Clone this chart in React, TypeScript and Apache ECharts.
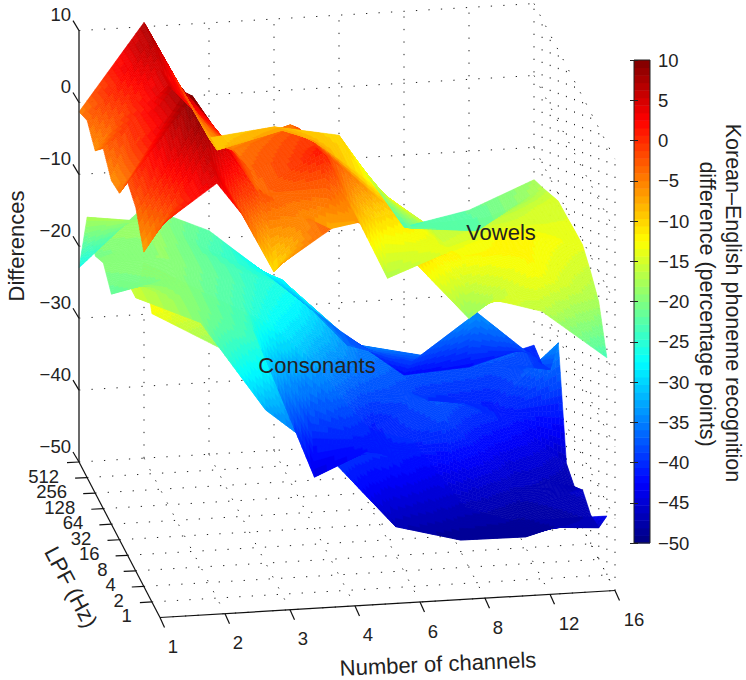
import React, { useEffect, useRef } from "react";
import * as echarts from "echarts";

const channelLabels = ["1", "2", "3", "4", "6", "8", "12", "16"];
const lpfLabels = ["512", "256", "128", "64", "32", "16", "8", "4", "2", "1"];
const zTicks = [10, 0, -10, -20, -30, -40, -50];

// rows: LPF 512 -> 1, columns: channels 1 -> 16
const vowels = [
  [-1.3, 10.6, -6, -5, -6.7, -20, -18.2, -14.5],
  [-0.3, 10.6, -5.5, -3.3, -6.6, -18, -18.9, -13.4],
  [-2.4, 8.5, -3, -0.4, -7.2, -15.4, -15, -12.2],
  [0.1, 8.4, -1.2, 1.3, -6.5, -13.3, -13, -11],
  [-2.2, 11, -0.4, 2.5, -5.7, -12.4, -11.6, -10.9],
  [-1.8, 11.7, 0.3, 3.3, -4.9, -11.7, -10.1, -10.7],
  [1.9, 13.3, -0.3, 5, -13.6, -10.2, -8.3, -10.6],
  [0.6, 12.5, 0.9, -4, -2.5, -9, -8.6, -12.2],
  [-3.5, 9.6, -7.3, 3.5, -5.5, -15.4, -9, -14.2],
  [1.5, 7.7, -4, 1.8, -2.5, -10.1, -12.8, -19.8],
];
const consonants = [
  [-23, -15, -18.9, -26.3, -33.8, -40.6, -40, -37.5],
  [-13.8, -15, -20, -24.1, -33.7, -36.6, -30.3, -38],
  [-17, -15.4, -19.4, -23, -31.5, -33.5, -35, -36.6],
  [-15.8, -15.5, -19.3, -25, -32.9, -37.6, -38.8, -30.7],
  [-18, -16, -19.9, -28, -38.8, -34.3, -38.7, -45.3],
  [-14, -16, -20.5, -42.9, -39, -36, -44, -46.4],
  [-12, -16, -21.2, -36, -38.5, -44, -47, -44.7],
  [-12, -16, -28.7, -36, -46, -48.4, -48.5, -46],
  [-5, -10, -15, -25, -36, -42, -45, -45.6],
  [-9.9, -15, -19.6, -27, -29.6, -41.6, -41.8, -41.8],
];
const colorbarValues = Array.from({ length: 64 }, (_, k) => k);

const TEXT = "#222";
const FONT = "Liberation Sans";
const colorShiftHigh = -3.5;
const shiftFadeFrom = -30;
const shiftFadeTo = -52;

function project(i: number, j: number, z: number): [number, number] {
  return [79 + 65 * i + 8.1 * j, 462 - 3.86 * i + 15.55 * j - 7.19 * (z + 50)];
}
function jet(t: number): string {
  const k = Math.max(0, Math.min(63, Math.floor(t * 64)));
  const x = (k + 0.5) / 64;
  const c = (d: number) => Math.round(255 * Math.max(0, Math.min(1, 1.5 - Math.abs(4 * x - d))));
  return `rgb(${c(3)},${c(2)},${c(1)})`;
}
const colorOf = (v: number) => {
  const f = Math.max(0, Math.min(1, (v - shiftFadeTo) / (shiftFadeFrom - shiftFadeTo)));
  return jet((v + colorShiftHigh * f + 50) / 60);
};

function surfaceCells(grid: number[][]) {
  const out: number[][] = [];
  for (let j = grid.length - 2; j >= 0; j--) {
    for (let i = grid[0].length - 2; i >= 0; i--) out.push([i, j]);
  }
  // painter's order: far first
  out.sort((a, b) => b[1] + 0.1246 * b[0] - (a[1] + 0.1246 * a[0]));
  return out;
}
function surfaceSeries(grid: number[][], z: number) {
  const N = 16;
  return {
    type: "custom",
    coordinateSystem: "none",
    silent: true,
    z,
    data: surfaceCells(grid),
    renderItem: (_: any, api: any) => {
      const i = api.value(0);
      const j = api.value(1);
      const a = grid[j][i], b = grid[j][i + 1], c = grid[j + 1][i], d = grid[j + 1][i + 1];
      const val = (u: number, v: number) =>
        a * (1 - u) * (1 - v) + b * u * (1 - v) + c * (1 - u) * v + d * u * v;
      const children: any[] = [];
      for (let q = 0; q < N; q++) {
        for (let p = N - 1; p >= 0; p--) {
          const corners = [[p, q], [p + 1, q], [p + 1, q + 1], [p, q + 1]].map(([m, n]) => {
            const u = m / N, v = n / N;
            return project(i + u, j + v, val(u, v));
          });
          const col = colorOf(val((p + 0.5) / N, (q + 0.5) / N));
          children.push({
            type: "polygon",
            shape: { points: corners },
            style: { fill: col, stroke: col, lineWidth: 0.6 },
          });
        }
      }
      return { type: "group", children };
    },
  };
}

function dottedSegments() {
  const segs: number[][][] = [];
  const nx = channelLabels.length - 1;
  const ny = lpfLabels.length; // floor reaches one step in front of LPF 1
  const top = zTicks[0], bot = zTicks[zTicks.length - 1];
  for (let i = 1; i <= nx; i++) {
    segs.push([[i, 0, bot], [i, 0, top]]);
    segs.push([[i, 0, bot], [i, ny, bot]]);
  }
  for (let j = 1; j <= ny; j++) {
    segs.push([[0, j, bot], [nx, j, bot]]);
    segs.push([[nx, j, bot], [nx, j, top]]);
  }
  for (const z of zTicks) {
    segs.push([[0, 0, z], [nx, 0, z]]);
    segs.push([[nx, 0, z], [nx, ny, z]]);
  }
  return segs;
}
const gridSegments = dottedSegments();

function axisGraphics() {
  const g: any[] = [];
  const line = (p: number[], q: number[], color = "#111", w = 1.2) =>
    g.push({
      type: "line", z: 50,
      shape: { x1: p[0], y1: p[1], x2: q[0], y2: q[1] },
      style: { stroke: color, lineWidth: w },
    });
  const text = (s: string, x: number, y: number, o: any = {}) =>
    g.push({
      type: "text", z: 60, x, y, rotation: o.rotation || 0,
      style: {
        text: s, fill: TEXT, fontFamily: FONT, fontSize: o.size || 18.5,
        align: o.align || "center", verticalAlign: "middle",
      },
    });
  const ny = lpfLabels.length;
  const nx = channelLabels.length - 1;
  line(project(0, 0, 10), project(0, 0, -50), "#444", 1.6);
  line(project(0, 0, -50), project(0, ny, -50));
  line(project(0, ny, -50), project(nx, ny, -50));
  zTicks.forEach((z) => {
    const [x, y] = project(0, 0, z);
    line([x, y], [x - 6, y - 10]);
    text(String(z).replace("-", "\u2212"), x - 8, y - 16, { align: "right" });
  });
  lpfLabels.forEach((s, j) => {
    const [x, y] = project(0, j, -50);
    line([x, y], [x - 12, y + 0.6]);
    text(s, x - 20, y + 14, { align: "right" });
  });
  channelLabels.forEach((s, i) => {
    const [x, y] = project(i, ny, -50);
    line([x, y], [x + 4.5, y + 10]);
    text(s, x + 13 + (s.length > 1 ? 6 : 0), y + 29);
  });
  text("Differences", 16, 246, { rotation: Math.PI / 2, size: 22 });
  text("LPF (Hz)", 71, 587, { rotation: (-62 * Math.PI) / 180, size: 22 });
  text("Number of channels", 438, 664, { rotation: (2.5 * Math.PI) / 180, size: 22 });
  text("Consonants", 317, 365, { size: 22 });
  text("Vowels", 501, 232, { size: 22 });
  text("Korean\u2013English phoneme recognition", 733, 303, { rotation: -Math.PI / 2, size: 21.5 });
  text("difference (percentage points)", 707, 304, { rotation: -Math.PI / 2, size: 21.5 });
  g.push({
    type: "rect", z: 50,
    shape: { x: 634, y: 60, width: 16, height: 483 },
    style: { fill: "none", stroke: "#222", lineWidth: 1 },
  });
  return g;
}

export default function App() {
  const ref = useRef<HTMLDivElement>(null);
  useEffect(() => {
    const chart = echarts.init(ref.current!, undefined, { renderer: "svg" });
    const yAxisBase = {
      type: "value", min: -50, max: 10, interval: 5, z: 10,
      axisLine: { show: false },
      splitLine: { show: false },
      axisTick: { show: true, inside: true, length: 4, lineStyle: { color: "#222" } },
    };
    chart.setOption({
      animation: false,
      backgroundColor: "#fff",
      grid: { left: 634, top: 60, width: 16, height: 483 },
      xAxis: { type: "value", min: 0, max: 1, show: false },
      yAxis: [
        {
          ...yAxisBase,
          position: "right",
          axisLabel: {
            color: TEXT, fontFamily: FONT, fontSize: 18.5, margin: 8, padding: [4, 0, 0, 0],
            formatter: (v: number) => String(v).replace("-", "\u2212"),
          },
        },
        { ...yAxisBase, position: "left", axisLabel: { show: false } },
      ],
      series: [
        {
          type: "custom",
          coordinateSystem: "none",
          silent: true,
          z: 1,
          data: gridSegments.map((_, k) => [k]),
          renderItem: (_: any, api: any) => {
            const [p, q] = gridSegments[api.value(0)];
            const a = project(p[0], p[1], p[2]);
            const b = project(q[0], q[1], q[2]);
            return {
              type: "line",
              shape: { x1: a[0], y1: a[1], x2: b[0], y2: b[1] },
              style: { stroke: "#222", lineWidth: 1, lineDash: [1.3, 11.2] },
            };
          },
        },
        surfaceSeries(consonants, 2),
        surfaceSeries(vowels, 3),
        {
          type: "custom",
          coordinateSystem: "cartesian2d",
          silent: true,
          z: 2,
          data: colorbarValues.map((k) => [k]),
          renderItem: (_: any, api: any) => {
            const k = api.value(0);
            const lo = -50 + (k * 60) / 64;
            const hi = -50 + ((k + 1) * 60) / 64;
            const p0 = api.coord([0, hi]);
            const p1 = api.coord([1, lo]);
            return {
              type: "rect",
              shape: { x: p0[0], y: p0[1], width: p1[0] - p0[0], height: p1[1] - p0[1] + 0.5 },
              style: { fill: jet((k + 0.5) / 64) },
            };
          },
        },
      ],
      graphic: { elements: axisGraphics() },
    });
    return () => chart.dispose();
  }, []);
  return (
    <div
      ref={ref}
      style={{ position: "absolute", left: 0, top: 0, width: 746, height: 680 }}
    />
  );
}
